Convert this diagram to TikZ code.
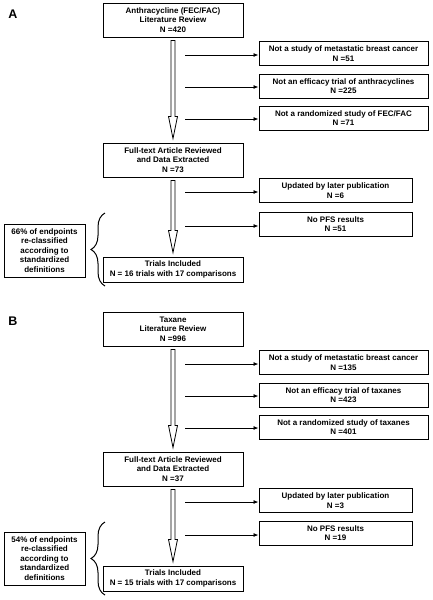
\documentclass[tikz,border=0pt]{standalone}
\usepackage{fontspec}
\setmainfont{Liberation Sans}
\usetikzlibrary{positioning, arrows.meta, calc, decorations.pathreplacing}

% open block arrow between two stacked boxes
\newcommand{\hollowarrow}[2]{%
  \draw[fill=white, line width=0.8pt] let \p1=(#1.south), \p2=(#2.north) in
    (\x1-2pt,\y1-3pt) -- (\x1-2pt,\y2+26pt) -- (\x1-4.5pt,\y2+26pt) -- (\x1,\y2+4pt)
    -- (\x1+4.5pt,\y2+26pt) -- (\x1+2pt,\y2+26pt) -- (\x1+2pt,\y1-3pt) -- cycle;}

\begin{document}
\begin{tikzpicture}[x=1pt, y=1pt,
        boxfont/.style={font=\fontsize{8}{9.5}\selectfont\bfseries},
        mainbox/.style={draw, line width=1pt, boxfont, align=center, inner sep=1pt, minimum width=140pt, minimum height=34pt},
        exclbox/.style={draw, line width=1pt, boxfont, align=center, inner sep=1pt, minimum width=#1, minimum height=24pt},
        notebox/.style={draw, line width=1pt, boxfont, align=center, inner sep=1pt, minimum width=81pt, minimum height=53pt},
        panel/.style={font=\fontsize{12.5}{14}\selectfont\bfseries},
        arrow/.style={-{Latex[length=5pt,width=4pt]}, line width=0.8pt},
        curly/.style={decorate, decoration={brace, amplitude=14pt}, line width=1pt}
    ]
    \useasboundingbox (0,0) rectangle (432,-600);

    % ---- panel A
    \node[panel] (labA) at (13,-14) {A};
    \node[mainbox] (litA) at (173,-20) {Anthracycline (FEC/FAC)\\Literature Review\\N =420};
    \node[exclbox=169pt] (mbcA) at (343.5,-53.5) {Not a study of metastatic breast cancer\\N =51};
    \node[exclbox=169pt] (effA) at (343.5,-86) {Not an efficacy trial of anthracyclines\\N =225};
    \node[exclbox=169pt] (randA) at (343.5,-118) {Not a randomized study of FEC/FAC\\N =71};
    \node[mainbox] (fullA) at (173,-160) {Full-text Article Reviewed\\and Data Extracted\\N =73};
    \node[exclbox=153pt] (updA) at (335.5,-190.5) {Updated by later publication\\N =6};
    \node[exclbox=153pt] (pfsA) at (335.5,-224) {No PFS results\\N =51};
    \node[mainbox, minimum height=25pt] (trialsA) at (173,-269.5) {Trials Included\\N = 16 trials with 17 comparisons};
    \node[notebox] (noteA) at (44.5,-250.5) {66\% of endpoints\\re-classified\\according to\\standardized\\definitions};

    \hollowarrow{litA}{fullA}
    \hollowarrow{fullA}{trialsA}

    \coordinate (a1) at (185,-55);
    \coordinate (a2) at (185,-87);
    \coordinate (a3) at (185,-119);
    \coordinate (a4) at (185,-192);
    \coordinate (a5) at (185,-226);
    \draw[arrow] (a1) -- (a1 -| mbcA.west);
    \draw[arrow] (a2) -- (a2 -| effA.west);
    \draw[arrow] (a3) -- (a3 -| randA.west);
    \draw[arrow] (a4) -- (a4 -| updA.west);
    \draw[arrow] (a5) -- (a5 -| pfsA.west);

    \draw[curly] (105,-286) -- (105,-213);

    % ---- panel B
    \node[panel] (labB) at (13,-321) {B};
    \node[mainbox] (litB) at (173,-329) {Taxane\\Literature Review\\N =996};
    \node[exclbox=169pt] (mbcB) at (343.5,-362.5) {Not a study of metastatic breast cancer\\N =135};
    \node[exclbox=169pt] (effB) at (343.5,-395) {Not an efficacy trial of taxanes\\N =423};
    \node[exclbox=169pt] (randB) at (343.5,-427) {Not a randomized study of taxanes\\N =401};
    \node[mainbox] (fullB) at (173,-469) {Full-text Article Reviewed\\and Data Extracted\\N =37};
    \node[exclbox=153pt] (updB) at (335.5,-500.5) {Updated by later publication\\N =3};
    \node[exclbox=153pt] (pfsB) at (335.5,-533) {No PFS results\\N =19};
    \node[mainbox, minimum height=25pt] (trialsB) at (173,-578.5) {Trials Included\\N = 15 trials with 17 comparisons};
    \node[notebox] (noteB) at (44.5,-558.5) {54\% of endpoints\\re-classified\\according to\\standardized\\definitions};

    \hollowarrow{litB}{fullB}
    \hollowarrow{fullB}{trialsB}

    \coordinate (b1) at (185,-364);
    \coordinate (b2) at (185,-396);
    \coordinate (b3) at (185,-428);
    \coordinate (b4) at (185,-502);
    \coordinate (b5) at (185,-535);
    \draw[arrow] (b1) -- (b1 -| mbcB.west);
    \draw[arrow] (b2) -- (b2 -| effB.west);
    \draw[arrow] (b3) -- (b3 -| randB.west);
    \draw[arrow] (b4) -- (b4 -| updB.west);
    \draw[arrow] (b5) -- (b5 -| pfsB.west);

    \draw[curly] (105,-595) -- (105,-522);
\end{tikzpicture}
\end{document}
